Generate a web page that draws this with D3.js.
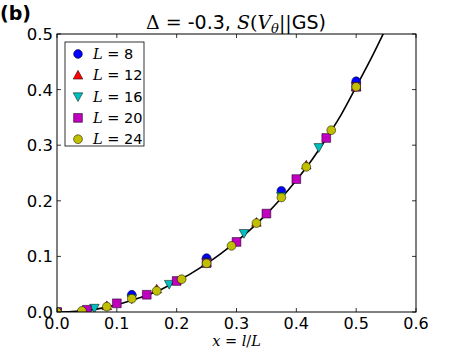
<!DOCTYPE html>
<html>
<head>
<meta charset="utf-8">
<script src="https://cdn.jsdelivr.net/npm/d3@7"></script>
<style>
  body { margin: 0; background: #fff; }
  text { font-family: "DejaVu Sans", sans-serif; fill: #000; }
  .math { font-family: "DejaVu Serif", serif; font-style: italic; }
</style>
</head>
<body>
<div id="chart"></div>
<script>
const width = 463;
const height = 348;
const margin = { top: 34, right: 47, bottom: 36, left: 57 };

// series: S values at x = l/L, l = 0..L/2
const sizes = [8, 12, 16, 20, 24];
const valuesL8 = [0, 0.031, 0.097, 0.218, 0.415];
const valuesL12 = [0, 0.011, 0.041, 0.089, 0.161, 0.264, 0.405];
const valuesL16 = [0, 0.007, 0.024, 0.050, 0.090, 0.1415, 0.208, 0.296, 0.406];
const valuesL20 = [0, 0.004, 0.0156, 0.031, 0.0558, 0.088, 0.126, 0.177, 0.239, 0.313, 0.405];
const valuesL24 = [0, 0.002, 0.0096, 0.024, 0.038, 0.059, 0.0875, 0.119, 0.160, 0.206, 0.261, 0.327, 0.405];
const seriesValues = [valuesL8, valuesL12, valuesL16, valuesL20, valuesL24];
const colors = ["#0000ff", "#ff0000", "#00bfbf", "#bf00bf", "#bfbf00"];
const shapes = ["circle", "triangleUp", "triangleDown", "square", "circle"];

// black reference curve
const curveX = [0, 0.025, 0.05, 0.075, 0.1, 0.125, 0.15, 0.175, 0.2, 0.225, 0.25, 0.275, 0.3, 0.325, 0.35, 0.375, 0.4, 0.425, 0.45, 0.475, 0.5, 0.525, 0.55];
const curveY = [0, 0.0008, 0.003, 0.007, 0.013, 0.021, 0.030, 0.041, 0.055, 0.070, 0.087, 0.106, 0.127, 0.150, 0.176, 0.205, 0.237, 0.272, 0.312, 0.355, 0.405, 0.456, 0.511];

const xTicks = [0, 0.1, 0.2, 0.3, 0.4, 0.5, 0.6];
const yTicks = [0, 0.1, 0.2, 0.3, 0.4, 0.5];

const svg = d3.select("#chart").append("svg")
    .attr("width", width)
    .attr("height", height);

const x = d3.scaleLinear().domain([0, 0.6]).range([margin.left, width - margin.right]);
const y = d3.scaleLinear().domain([0, 0.5]).range([height - margin.bottom, margin.top]);

svg.append("defs").append("clipPath").attr("id", "clip")
    .append("rect")
    .attr("x", margin.left).attr("y", margin.top)
    .attr("width", width - margin.left - margin.right)
    .attr("height", height - margin.top - margin.bottom);

// curve
const line = d3.line()
    .x(d => x(d[0]))
    .y(d => y(d[1]))
    .curve(d3.curveMonotoneX);

svg.append("path")
    .datum(curveX.map((v, i) => [v, curveY[i]]))
    .attr("clip-path", "url(#clip)")
    .attr("fill", "none")
    .attr("stroke", "#000")
    .attr("stroke-width", 1.6)
    .attr("d", line);

// markers
function markerPath(shape) {
    const r = 4.4;
    if (shape === "circle") return d3.symbol(d3.symbolCircle, Math.PI * r * r)();
    if (shape === "square") return `M${-r},${-r}H${r}V${r}H${-r}Z`;
    if (shape === "triangleUp") return `M0,${-r - 0.6}L${r + 0.4},${r - 0.6}L${-r - 0.4},${r - 0.6}Z`;
    return `M0,${r + 0.6}L${r + 0.4},${-r + 0.6}L${-r - 0.4},${-r + 0.6}Z`;
}

const pts = svg.append("g").attr("clip-path", "url(#clip)");
sizes.forEach((L, k) => {
    pts.selectAll(null)
        .data(seriesValues[k])
        .enter().append("path")
        .attr("d", markerPath(shapes[k]))
        .attr("transform", (d, i) => `translate(${x(i / L)},${y(d)})`)
        .attr("fill", colors[k])
        .attr("stroke", "#000")
        .attr("stroke-width", 0.5);
});

// frame
const x0 = margin.left, x1 = width - margin.right, y0 = height - margin.bottom, y1 = margin.top;
svg.append("rect")
    .attr("x", x0).attr("y", y1)
    .attr("width", x1 - x0).attr("height", y0 - y1)
    .attr("fill", "none")
    .attr("stroke", "#000")
    .attr("stroke-width", 1);

// ticks (inside, on all four sides)
const tk = svg.append("g").attr("stroke", "#000").attr("stroke-width", 0.8);
xTicks.forEach(t => {
    tk.append("line").attr("x1", x(t)).attr("x2", x(t)).attr("y1", y0).attr("y2", y0 - 4);
    tk.append("line").attr("x1", x(t)).attr("x2", x(t)).attr("y1", y1).attr("y2", y1 + 4);
});
yTicks.forEach(t => {
    tk.append("line").attr("x1", x0).attr("x2", x0 + 4).attr("y1", y(t)).attr("y2", y(t));
    tk.append("line").attr("x1", x1).attr("x2", x1 - 4).attr("y1", y(t)).attr("y2", y(t));
});

svg.selectAll(".xt")
    .data(xTicks)
    .enter().append("text")
    .attr("x", d => x(d))
    .attr("y", y0 + 17)
    .attr("text-anchor", "middle")
    .style("font-size", "16px")
    .text(d => d3.format(".1f")(d));

svg.selectAll(".yt")
    .data(yTicks)
    .enter().append("text")
    .attr("x", x0 - 4)
    .attr("y", d => y(d) + 6)
    .attr("text-anchor", "end")
    .style("font-size", "16.5px")
    .text(d => d3.format(".1f")(d));

// x label
const xl = svg.append("text")
    .attr("x", x(0.3))
    .attr("y", height - 2.5)
    .attr("text-anchor", "middle")
    .style("font-size", "14.5px");
xl.append("tspan").attr("class", "math").text("x");
xl.append("tspan").text(" = ").style("font-family", "DejaVu Serif");
xl.append("tspan").attr("class", "math").text("l");
xl.append("tspan").text("/").style("font-family", "DejaVu Serif");
xl.append("tspan").attr("class", "math").text("L");

// title
const title = svg.append("text")
    .attr("x", 236)
    .attr("y", 29)
    .attr("text-anchor", "middle")
    .style("font-size", "19px");
title.append("tspan").text("Δ").style("font-family", "DejaVu Serif");
title.append("tspan").text(" = ").style("font-family", "DejaVu Serif");
title.append("tspan").text("-0.3, ");
title.append("tspan").attr("class", "math").text("S");
title.append("tspan").text("(").style("font-family", "DejaVu Serif");
title.append("tspan").attr("class", "math").text("V");
title.append("tspan").attr("class", "math").attr("dy", 4).style("font-size", "13px").text("θ");
title.append("tspan").attr("dy", -4).text("||").style("font-family", "DejaVu Serif");
title.append("tspan").text("GS)");

// panel label
svg.append("text")
    .attr("x", 0)
    .attr("y", 20)
    .style("font-size", "19px")
    .style("font-weight", "bold")
    .text("(b)");

// legend
const legend = svg.append("g").attr("transform", "translate(65,42)");
legend.append("rect")
    .attr("width", 79).attr("height", 104)
    .attr("fill", "#fff")
    .attr("stroke", "#000")
    .attr("stroke-width", 0.8);

const item = legend.selectAll(".item")
    .data(sizes)
    .enter().append("g")
    .attr("transform", (d, i) => `translate(13,${12 + i * 21.3})`);

item.append("path")
    .attr("d", (d, i) => markerPath(shapes[i]))
    .attr("fill", (d, i) => colors[i])
    .attr("stroke", "#000")
    .attr("stroke-width", 0.5);

const lt = item.append("text")
    .attr("x", 15)
    .attr("y", 5)
    .style("font-size", "14.5px");
lt.append("tspan").attr("class", "math").text("L");
lt.append("tspan").text(" = ").style("font-family", "DejaVu Serif");
lt.append("tspan").text(d => d);
</script>
</body>
</html>
